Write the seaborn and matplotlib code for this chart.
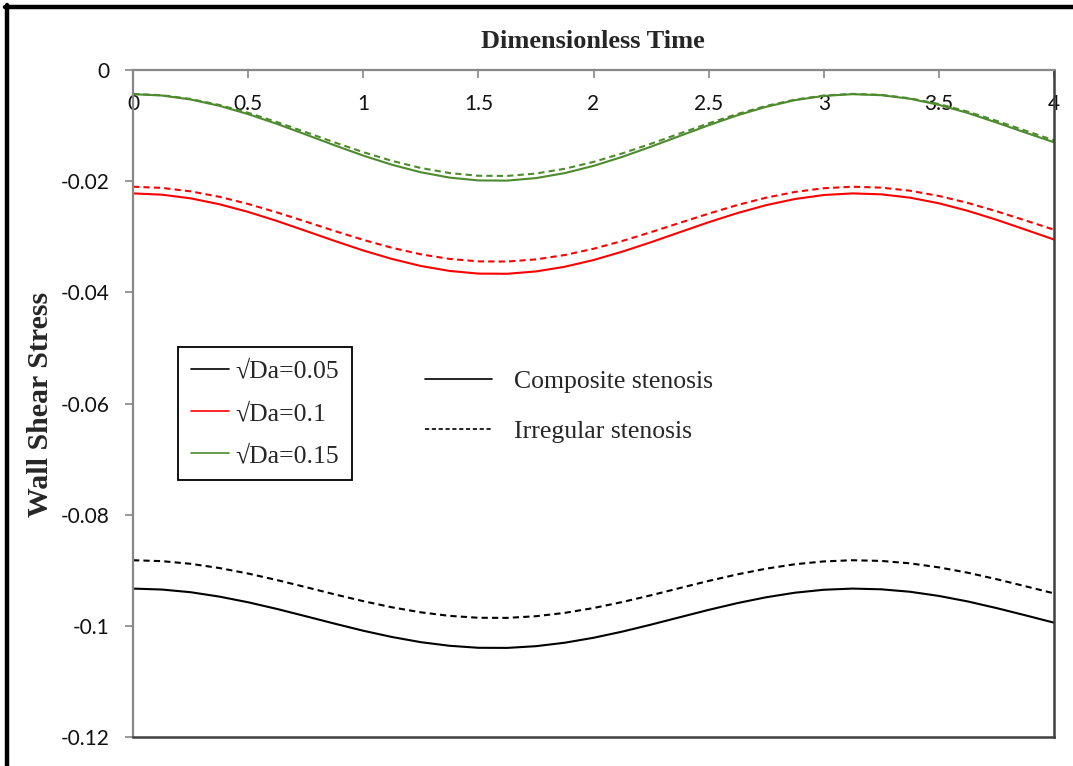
import numpy as np
import pandas as pd
import matplotlib
matplotlib.use("Agg")
import matplotlib.pyplot as plt
from matplotlib.lines import Line2D
import seaborn as sns

# ---- data ----
time = [0.0, 0.125, 0.25, 0.375, 0.5, 0.625, 0.75, 0.875, 1.0, 1.125, 1.25, 1.375, 1.5, 1.625,
        1.75, 1.875, 2.0, 2.125, 2.25, 2.375, 2.5, 2.625, 2.75, 2.875, 3.0, 3.125, 3.25, 3.375,
        3.5, 3.625, 3.75, 3.875, 4.0]

comp_005 = [-0.09330, -0.09347, -0.09395, -0.09474, -0.09576, -0.09696, -0.09827, -0.09960,
            -0.10088, -0.10201, -0.10294, -0.10359, -0.10395, -0.10397, -0.10366, -0.10304,
            -0.10215, -0.10104, -0.09978, -0.09845, -0.09713, -0.09591, -0.09486, -0.09404,
            -0.09351, -0.09330, -0.09343, -0.09387, -0.09462, -0.09561, -0.09680, -0.09810,
            -0.09943]
irr_005 = [-0.08820, -0.08836, -0.08884, -0.08960, -0.09059, -0.09176, -0.09303, -0.09433,
           -0.09556, -0.09667, -0.09757, -0.09821, -0.09855, -0.09857, -0.09827, -0.09767,
           -0.09680, -0.09572, -0.09450, -0.09320, -0.09192, -0.09074, -0.08971, -0.08892,
           -0.08841, -0.08820, -0.08832, -0.08876, -0.08948, -0.09044, -0.09160, -0.09287,
           -0.09416]
comp_010 = [-0.02220, -0.02243, -0.02309, -0.02415, -0.02553, -0.02716, -0.02894, -0.03074,
            -0.03247, -0.03400, -0.03526, -0.03615, -0.03663, -0.03666, -0.03624, -0.03540,
            -0.03419, -0.03268, -0.03098, -0.02918, -0.02739, -0.02574, -0.02431, -0.02321,
            -0.02249, -0.02220, -0.02237, -0.02297, -0.02398, -0.02533, -0.02694, -0.02871,
            -0.03050]
irr_010 = [-0.02100, -0.02121, -0.02183, -0.02281, -0.02410, -0.02562, -0.02727, -0.02895,
           -0.03056, -0.03199, -0.03316, -0.03399, -0.03443, -0.03446, -0.03407, -0.03329,
           -0.03216, -0.03076, -0.02917, -0.02750, -0.02584, -0.02429, -0.02297, -0.02194,
           -0.02127, -0.02100, -0.02116, -0.02172, -0.02266, -0.02391, -0.02541, -0.02706,
           -0.02873]
comp_015 = [-0.00435, -0.00459, -0.00530, -0.00644, -0.00794, -0.00969, -0.01160, -0.01354,
            -0.01540, -0.01705, -0.01840, -0.01936, -0.01987, -0.01990, -0.01945, -0.01855,
            -0.01725, -0.01563, -0.01379, -0.01186, -0.00994, -0.00815, -0.00662, -0.00543,
            -0.00466, -0.00435, -0.00453, -0.00518, -0.00627, -0.00772, -0.00945, -0.01125,
            -0.01300]
irr_015 = [-0.00430, -0.00453, -0.00521, -0.00629, -0.00770, -0.00937, -0.01118, -0.01302,
           -0.01478, -0.01635, -0.01763, -0.01854, -0.01903, -0.01906, -0.01863, -0.01777,
           -0.01654, -0.01500, -0.01326, -0.01142, -0.00960, -0.00791, -0.00646, -0.00533,
           -0.00459, -0.00430, -0.00447, -0.00509, -0.00612, -0.00749, -0.00914, -0.01090,
           -0.01265]

da_labels = ["\u221aDa=0.05", "\u221aDa=0.1", "\u221aDa=0.15"]
stenosis_labels = ["Composite stenosis", "Irregular stenosis"]
x_ticks = [0, 0.5, 1, 1.5, 2, 2.5, 3, 3.5, 4]
x_tick_labels = ["0", "0.5", "1", "1.5", "2", "2.5", "3", "3.5", "4"]
y_ticks = [0, -0.02, -0.04, -0.06, -0.08, -0.1, -0.12]
y_tick_labels = ["0", "-0.02", "-0.04", "-0.06", "-0.08", "-0.1", "-0.12"]
title = "Dimensionless Time"
ylabel = "Wall Shear Stress"

colors = {da_labels[0]: "#000000", da_labels[1]: "#ff0000", da_labels[2]: "#4e8a2e"}

series = {
    (da_labels[0], stenosis_labels[0]): comp_005,
    (da_labels[0], stenosis_labels[1]): irr_005,
    (da_labels[1], stenosis_labels[0]): comp_010,
    (da_labels[1], stenosis_labels[1]): irr_010,
    (da_labels[2], stenosis_labels[0]): comp_015,
    (da_labels[2], stenosis_labels[1]): irr_015,
}
rows = []
for (da, st), vals in series.items():
    for t, v in zip(time, vals):
        rows.append({"t": t, "wss": v, "Da": da, "Stenosis": st})
df = pd.DataFrame(rows)

sns.set_style("white")
serif = ["Liberation Serif", "DejaVu Serif"]
sans = ["Lato", "DejaVu Sans"]

fig = plt.figure(figsize=(10.73, 7.66), dpi=100)
ax = fig.add_axes([133 / 1073, 1 - 737 / 766, (1054 - 133) / 1073, (737 - 70) / 766])

sns.lineplot(data=df, x="t", y="wss", hue="Da", style="Stenosis", palette=colors,
             dashes={stenosis_labels[0]: "", stenosis_labels[1]: (3.0, 2.0)},
             hue_order=da_labels, style_order=stenosis_labels,
             linewidth=1.5, legend=False, ax=ax, estimator=None, sort=False)

ax.set_xlim(0, 4)
ax.set_ylim(-0.12, 0)
ax.set_xlabel("")
ax.set_ylabel("")

ax.xaxis.set_ticks_position("top")
ax.set_xticks(x_ticks)
ax.set_xticklabels(x_tick_labels, fontfamily=sans, fontsize=15, color="#111111")
ax.tick_params(axis="x", which="both", top=True, bottom=False, labeltop=True, labelbottom=False,
               direction="in", length=6, width=1.2, color="#888888", pad=-32)
ax.set_yticks(y_ticks)
ax.set_yticklabels(y_tick_labels, fontfamily=sans, fontsize=15, color="#111111")
ax.tick_params(axis="y", which="both", left=True, direction="out", length=6, width=1.2,
               color="#888888", pad=11)

for s in ["top", "left"]:
    ax.spines[s].set_color("#888888")
    ax.spines[s].set_linewidth(1.6)
for s in ["bottom", "right"]:
    ax.spines[s].set_color("#404040")
    ax.spines[s].set_linewidth(1.8)
    ax.spines[s].set_visible(True)

fig.text(593 / 1073, 1 - 41 / 766, title, ha="center", va="center",
         fontfamily=serif, fontweight="bold", fontsize=19)
fig.text(41 / 1073, 1 - 404 / 766, ylabel, ha="center", va="center", rotation=90,
         fontfamily=serif, fontweight="bold", fontsize=21.5)

# legend 1: Da colours
h1 = [Line2D([], [], color=colors[d], lw=1.2) for d in da_labels]
leg1 = fig.legend(h1, da_labels, loc="upper left", bbox_to_anchor=(178 / 1073, 1 - 347 / 766),
                  frameon=True, fancybox=False, edgecolor="black", framealpha=1,
                  prop={"family": serif, "size": 18.5}, handlelength=1.5, handletextpad=0.25,
                  borderpad=0.5, labelspacing=0.75, borderaxespad=0)
leg1.get_frame().set_linewidth(1.3)

# legend 2: stenosis type
h2 = [Line2D([], [], color="black", lw=1.2, linestyle="-"),
      Line2D([], [], color="black", lw=1.2, linestyle=(0, (2.5, 1.6)))]
leg2 = fig.legend(h2, stenosis_labels, loc="upper left", bbox_to_anchor=(425 / 1073, 1 - 370 / 766),
                  frameon=False, prop={"family": serif, "size": 18.5}, handlelength=2.6,
                  handletextpad=0.85, borderpad=0, labelspacing=1.05, borderaxespad=0)

# outer frame (top and left)
fig.add_artist(Line2D([5 / 1073, 1], [1 - 6.5 / 766, 1 - 6.5 / 766], color="black", lw=3.2,
                      transform=fig.transFigure))
fig.add_artist(Line2D([7 / 1073, 7 / 1073], [0, 1 - 5 / 766], color="black", lw=3.2,
                      transform=fig.transFigure))

fig.savefig("out.png", dpi=100, facecolor="white")
